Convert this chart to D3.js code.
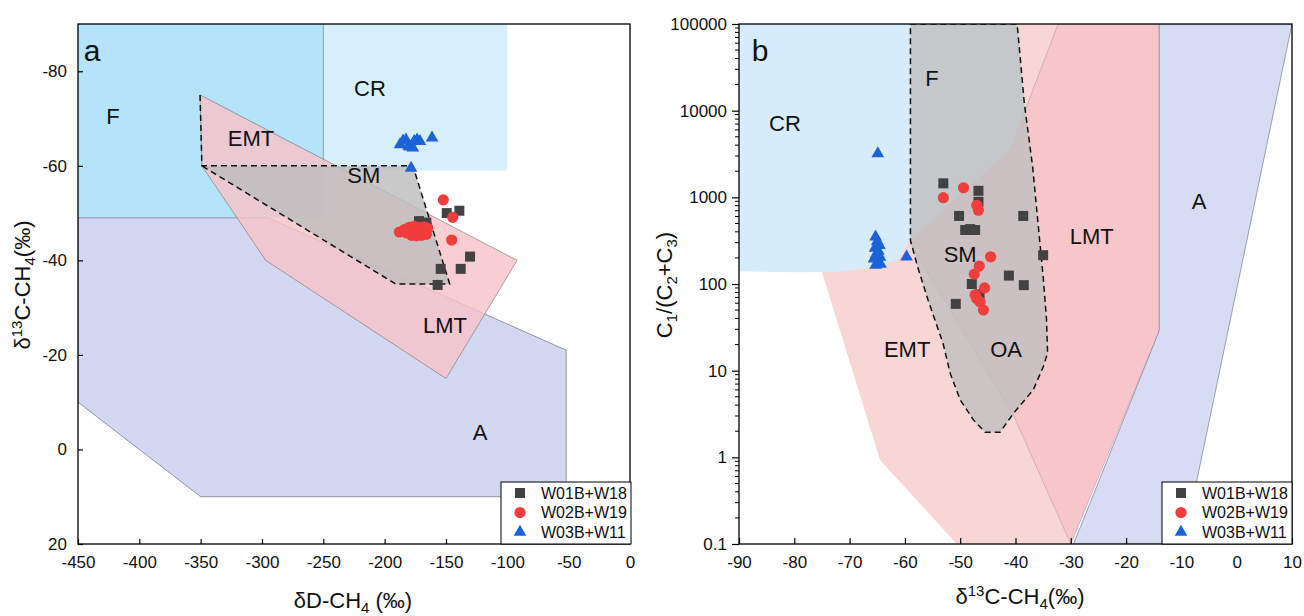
<!DOCTYPE html>
<html><head><meta charset="utf-8">
<script src="https://cdn.jsdelivr.net/npm/d3@7"></script>
<style>
body{margin:0;background:#fff;}
svg{display:block;font-family:"Liberation Sans",Arial,sans-serif;}
</style></head><body>
<svg id="chart" width="1304" height="616"></svg>
<script>
// ---------------- DATA ----------------
const seriesNames = ["W01B+W18", "W02B+W19", "W03B+W11"];

// Panel a: [δD-CH4, δ13C-CH4]
const aSquares = [[-149.4,-50.0],[-139.1,-50.5],[-130.4,-40.8],[-154.3,-38.2],[-138.0,-38.2],[-156.8,-34.8],[-172,-48.3],[-166,-48.0]];
const aCircles = [[-152.2,-52.8],[-144.5,-49.1],[-145.4,-44.3],
  [-188,-46],[-184,-46.5],[-180,-47],[-176,-47.2],[-172,-47],[-168,-47.1],[-165,-46.8],
  [-178,-45.3],[-174,-45.2],[-170,-45.3],[-166,-45.5],[-182,-45.8]];
const aTriangles = [[-187.5,-64.5],[-185,-65.3],[-182.6,-65.5],[-180.5,-64.2],[-179.4,-64.0],[-177,-63.8],
  [-176,-65.2],[-173.6,-65.5],[-171.2,-65.2],[-161.4,-65.9],[-178.5,-59.5]];

// Panel b: [δ13C-CH4, C1/(C2+C3)]
const bSquares = [[-53.05,1450],[-46.7,1190],[-46.7,890],[-50.2,610],[-38.6,610],[-49.1,420],[-47.3,420],[-48.2,430],
  [-35.0,215],[-41.2,125],[-38.5,97],[-47.9,100],[-46.5,76],[-50.8,59]];
const bCircles = [[-53.05,990],[-49.4,1290],[-47.0,810],[-46.7,710],[-44.5,206],[-46.55,161],[-47.45,130],
  [-45.6,90],[-47.3,75],[-46.4,62],[-45.8,50],[-47.0,68]];
const bTriangles = [[-64.9,3200],[-59.7,206],[-65.3,350],[-65.0,310],[-64.6,280],[-65.4,260],[-64.8,240],
  [-65.2,220],[-64.5,205],[-65.6,195],[-64.9,180],[-65.3,165],[-64.4,170]];

// Axis ticks
const aXTicks = [-450,-400,-350,-300,-250,-200,-150,-100,-50,0];
const aYTicks = [-80,-60,-40,-20,0,20];
const bXTicks = [-90,-80,-70,-60,-50,-40,-30,-20,-10,0,10];
const bYTicks = [0.1,1,10,100,1000,10000,100000];

// Genetic fields, panel a
const aFieldF = [[-450,-90],[-250,-90],[-250,-49],[-450,-49]];
const aFieldCR = [[-250,-90],[-100,-90],[-100,-59],[-250,-59]];
const aFieldA = [[-450,-49],[-295,-49],[-52,-21],[-52,10],[-350,10],[-450,-10]];
const aFieldTherm = [[-350.5,-75],[-92,-40],[-150,-15],[-297,-40],[-349,-60]];
const aFieldSM = [[-349,-60],[-177,-60],[-147,-35],[-191,-35]];
const aSMOutline = [[-350.5,-75],[-349,-60],[-177,-60],[-147,-35],[-191,-35],[-349,-60]];

// Genetic fields, panel b
const bFieldEMT = [[-75,138],[-64.5,0.93],[-50.6,0.1],[-30,0.1],[-32.3,100000],[-42,100000],[-59.2,310]];
const bFieldLMT = [[-32.3,100000],[-14,100000],[-14,29],[-30,0.1],[-40.3,3],[-59.2,310],[-41,3550]];
const bFieldCR = [[-90,100000],[-39.7,100000],[-38.3,10000],[-41,3550],[-59.2,310],[-60,250],[-61,200],
  [-63.3,173],[-67,152],[-72,138],[-80,137],[-90,140]];
const bFieldA = [[-14,100000],[10,100000],[-9.6,0.1],[-29.5,0.1],[-14,29]];
const bFieldSM = [[-59,100000],[-39.7,100000],[-38.4,12100],[-36.9,2250],[-35,121],[-34.4,40],[-34.2,16],
  [-35,11],[-36.8,6],[-40.4,3.2],[-42.8,1.95],[-45.5,1.95],[-47.6,2.7],[-50,4.6],[-51.8,9.3],[-53.1,20.6],
  [-55.8,65],[-57.7,158],[-59,320]];

// Field labels
const aLabels = [["F",-421.5,-70.5],["CR",-212,-76.5],["EMT",-309,-65.9],["SM",-217,-58],["LMT",-150.8,-26.3],["A",-122.3,-3.7]];
const bLabels = [["F",-55.1,23800],["CR",-81.7,7200],["SM",-50,222],["LMT",-26.2,358],["A",-6.8,900],["EMT",-59.6,17.8],["OA",-41.7,17.8]];

// ---------------- DRAWING ----------------
const svg = d3.select("#chart");
const colSq = "#424242", colCi = "#f23d3d", colTr = "#1c62d9";

const xa = d3.scaleLinear().domain([-450,0]).range([78,630]);
const ya = d3.scaleLinear().domain([-90,20]).range([24,544]);
const xb = d3.scaleLinear().domain([-90,10]).range([739,1292]);
const yb = d3.scaleLog().domain([0.1,100000]).range([544,24]);

function poly(g, pts, x, y, fill, op, stroke, sw, dash, closed=true){
  const line = d3.line().x(d=>x(d[0])).y(d=>y(d[1]));
  g.append("path").attr("d", line(pts) + (closed?"Z":""))
    .attr("fill", fill).attr("fill-opacity", op)
    .attr("stroke", stroke||"none").attr("stroke-width", sw||0)
    .attr("stroke-dasharray", dash||null);
}

function drawPoints(g, x, y, sq, ci, tr){
  g.selectAll(".sq").data(sq).join("path").attr("class","sq")
    .attr("d", d3.symbol(d3.symbolSquare, 100)())
    .attr("transform", d=>`translate(${x(d[0])},${y(d[1])})`).attr("fill", colSq);
  g.selectAll(".ci").data(ci).join("circle").attr("class","ci")
    .attr("cx", d=>x(d[0])).attr("cy", d=>y(d[1])).attr("r", 5.6).attr("fill", colCi);
  g.selectAll(".tr").data(tr).join("path").attr("class","tr")
    .attr("d", d3.symbol(d3.symbolTriangle, 70)())
    .attr("transform", d=>`translate(${x(d[0])},${y(d[1])})`).attr("fill", colTr);
}

function legend(x0, y0){
  const g = svg.append("g");
  g.append("rect").attr("x", x0).attr("y", y0).attr("width", 130).attr("height", 62)
    .attr("fill", "#fff").attr("stroke", "#000").attr("stroke-width", 1);
  const rows = [0,1,2].map(i => y0 + 11 + i*19.5);
  const sx = x0 + 19;
  g.append("path").attr("d", d3.symbol(d3.symbolSquare, 100)()).attr("transform",`translate(${sx},${rows[0]})`).attr("fill", colSq);
  g.append("circle").attr("cx", sx).attr("cy", rows[1]).attr("r", 5.6).attr("fill", colCi);
  g.append("path").attr("d", d3.symbol(d3.symbolTriangle, 70)()).attr("transform",`translate(${sx},${rows[2]})`).attr("fill", colTr);
  seriesNames.forEach((n,i)=>{
    g.append("text").attr("x", x0+40).attr("y", rows[i]).attr("dy","0.36em")
      .attr("font-size", 16).attr("fill","#111").text(n);
  });
}

function clip(id, x0, y0, w, h){
  svg.append("clipPath").attr("id", id).append("rect").attr("x", x0).attr("y", y0).attr("width", w).attr("height", h);
}

// ---- Panel a ----
clip("ca", 78, 24, 552, 520);
const ga = svg.append("g").attr("clip-path","url(#ca)");
poly(ga, aFieldF, xa, ya, "#b3e4fa", 1);
poly(ga, aFieldCR, xa, ya, "#d7eefb", 1);
ga.append("line").attr("x1", xa(-250)).attr("x2", xa(-250)).attr("y1", ya(-90)).attr("y2", ya(-49))
  .attr("stroke","#7a8a95").attr("stroke-width",0.8);
poly(ga, aFieldA, xa, ya, "#d3d8f2", 1, "#6e7080", 0.7);
poly(ga, aFieldTherm, xa, ya, "#f7c2c8", 0.8, "#707070", 0.6);
poly(ga, aFieldSM, xa, ya, "#bdbdbd", 0.82);
poly(ga, aSMOutline, xa, ya, "none", 0, "#111", 1.5, "6,4", false);
drawPoints(ga, xa, ya, aSquares, aCircles, aTriangles);
ga.selectAll(".flab").data(aLabels).join("text").attr("class","flab")
  .attr("x", d=>xa(d[1])).attr("y", d=>ya(d[2])).attr("text-anchor","middle").attr("dy","0.36em")
  .attr("font-size", 22).attr("fill","#111").text(d=>d[0]);
svg.append("text").attr("x", 92).attr("y", 52).attr("text-anchor","middle").attr("dy","0.3em")
  .attr("font-size", 30).attr("fill","#111").text("a");

// axes a
svg.append("rect").attr("x",78).attr("y",24).attr("width",552).attr("height",520)
  .attr("fill","none").attr("stroke","#000").attr("stroke-width",1.3);
const axA = svg.append("g").attr("transform","translate(0,544)")
  .call(d3.axisBottom(xa).tickValues(aXTicks).tickFormat(d=>String(d)).tickSizeInner(-5).tickSizeOuter(0).tickPadding(12));
const ayA = svg.append("g").attr("transform","translate(78,0)")
  .call(d3.axisLeft(ya).tickValues(aYTicks).tickFormat(d=>String(d)).tickSizeInner(-5).tickSizeOuter(0).tickPadding(11));
[axA, ayA].forEach(a=>{ a.select(".domain").remove(); a.selectAll("text").attr("font-size",17).attr("fill","#111")
  .attr("font-family","Liberation Sans, Arial, sans-serif"); a.selectAll("line").attr("stroke","#000").attr("stroke-width",1.2); });

// ---- Panel b ----
clip("cb", 739, 24, 553, 520);
const gb = svg.append("g").attr("clip-path","url(#cb)");
poly(gb, bFieldEMT, xb, yb, "#f8d6d6", 1);
poly(gb, bFieldLMT, xb, yb, "#f7c6cb", 1, "#c09aa0", 0.6);
poly(gb, bFieldCR, xb, yb, "#d7ecfa", 1);
poly(gb, bFieldA, xb, yb, "#d7dcf5", 1, "#7a7e90", 0.7);
poly(gb, bFieldSM, xb, yb, "#bfbfbf", 0.8);
poly(gb, bFieldSM, xb, yb, "none", 0, "#111", 1.5, "6,4");
drawPoints(gb, xb, yb, bSquares, bCircles, bTriangles);
gb.selectAll(".flab").data(bLabels).join("text").attr("class","flab")
  .attr("x", d=>xb(d[1])).attr("y", d=>yb(d[2])).attr("text-anchor","middle").attr("dy","0.36em")
  .attr("font-size", 22).attr("fill","#111").text(d=>d[0]);
svg.append("text").attr("x", 760).attr("y", 52).attr("text-anchor","middle").attr("dy","0.3em")
  .attr("font-size", 30).attr("fill","#111").text("b");

svg.append("rect").attr("x",739).attr("y",24).attr("width",553).attr("height",520)
  .attr("fill","none").attr("stroke","#000").attr("stroke-width",1.3);
const axB = svg.append("g").attr("transform","translate(0,544)")
  .call(d3.axisBottom(xb).tickValues(bXTicks).tickFormat(d=>String(d)).tickSizeInner(-6).tickSizeOuter(0).tickPadding(12));
const ayB = svg.append("g").attr("transform","translate(739,0)")
  .call(d3.axisLeft(yb).tickValues(bYTicks).tickFormat(d=>String(d)).tickSizeInner(7).tickSizeOuter(0).tickPadding(5));
// minor log ticks
const minor = [];
bYTicks.slice(0,-1).forEach(t=>{ for(let k=2;k<10;k++) minor.push(t*k); });
svg.append("g").selectAll("line").data(minor).join("line")
  .attr("x1",735).attr("x2",739).attr("y1",d=>yb(d)).attr("y2",d=>yb(d)).attr("stroke","#000").attr("stroke-width",1);
[axB, ayB].forEach(a=>{ a.select(".domain").remove(); a.selectAll("text").attr("font-size",17).attr("fill","#111")
  .attr("font-family","Liberation Sans, Arial, sans-serif"); a.selectAll("line").attr("stroke","#000").attr("stroke-width",1.2); });

legend(501, 482);
legend(1162, 482);

// axis titles
const t1 = svg.append("text").attr("x", 353).attr("y", 608).attr("text-anchor","middle").attr("font-size", 22).attr("fill","#111");
t1.append("tspan").text("δD-CH");
t1.append("tspan").attr("font-size",15).attr("dy",5).text("4");
t1.append("tspan").attr("dy",-5).text(" (‰)");

const t2 = svg.append("text").attr("transform","translate(30,285) rotate(-90)").attr("text-anchor","middle").attr("font-size", 22).attr("fill","#111");
t2.append("tspan").text("δ");
t2.append("tspan").attr("font-size",15).attr("dy",-8).text("13");
t2.append("tspan").attr("dy",8).text("C-CH");
t2.append("tspan").attr("font-size",15).attr("dy",5).text("4");
t2.append("tspan").attr("dy",-5).text("(‰)");

const t3 = svg.append("text").attr("x", 1020).attr("y", 604).attr("text-anchor","middle").attr("font-size", 22).attr("fill","#111");
t3.append("tspan").text("δ");
t3.append("tspan").attr("font-size",15).attr("dy",-8).text("13");
t3.append("tspan").attr("dy",8).text("C-CH");
t3.append("tspan").attr("font-size",15).attr("dy",5).text("4");
t3.append("tspan").attr("dy",-5).text("(‰)");

const t4 = svg.append("text").attr("transform","translate(672,285) rotate(-90)").attr("text-anchor","middle").attr("font-size", 22).attr("fill","#111");
t4.append("tspan").text("C");
t4.append("tspan").attr("font-size",15).attr("dy",5).text("1");
t4.append("tspan").attr("dy",-5).text("/(C");
t4.append("tspan").attr("font-size",15).attr("dy",5).text("2");
t4.append("tspan").attr("dy",-5).text("+C");
t4.append("tspan").attr("font-size",15).attr("dy",5).text("3");
t4.append("tspan").attr("dy",-5).text(")");
</script>
</body></html>
